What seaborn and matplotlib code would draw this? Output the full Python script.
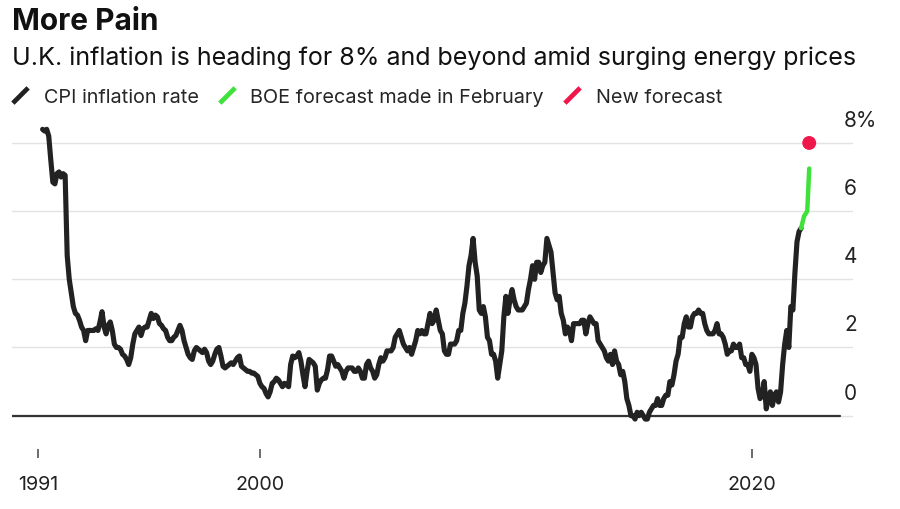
import numpy as np
import pandas as pd
import seaborn as sns
import matplotlib.pyplot as plt
import matplotlib.transforms as mtransforms
from matplotlib.lines import Line2D

# UK CPI inflation rate, monthly, from March 1991 to January 2022 (%)
cpi_start = "1991-03-01"
cpi_rate = [
    8.4, 8.35, 8.4, 8.2, 7.5, 6.85, 6.8, 7.1, 7.15, 7.0,                  # 1991 (Mar-Dec)
    7.1, 7.05, 4.7, 4.0, 3.6, 3.2, 3.0, 2.95, 2.8, 2.6, 2.5, 2.2,         # 1992
    2.5, 2.5, 2.5, 2.5, 2.55, 2.5, 2.75, 3.05, 2.6, 2.4, 2.65, 2.75,      # 1993
    2.5, 2.1, 2.0, 2.0, 1.95, 1.8, 1.75, 1.65, 1.5, 1.7, 2.1, 2.4,        # 1994
    2.5, 2.6, 2.35, 2.55, 2.6, 2.6, 2.8, 3.0, 2.85, 2.95, 2.9, 2.7,       # 1995
    2.65, 2.55, 2.5, 2.3, 2.2, 2.2, 2.3, 2.35, 2.5, 2.65, 2.5, 2.2,       # 1996
    2.0, 1.8, 1.7, 1.65, 1.9, 2.0, 1.95, 1.9, 1.85, 1.95, 1.85, 1.6,      # 1997
    1.5, 1.6, 1.8, 1.95, 2.0, 1.75, 1.45, 1.4, 1.45, 1.5, 1.55, 1.5,      # 1998
    1.6, 1.7, 1.75, 1.45, 1.4, 1.35, 1.3, 1.3, 1.25, 1.25, 1.2, 1.15,     # 1999
    0.95, 0.85, 0.8, 0.65, 0.55, 0.7, 0.95, 1.0, 1.1, 1.05, 0.95, 0.85,   # 2000
    0.95, 0.9, 0.85, 1.5, 1.75, 1.7, 1.75, 1.85, 1.6, 1.2, 0.85, 1.3,     # 2001
    1.65, 1.6, 1.55, 1.45, 0.75, 0.95, 1.05, 1.1, 1.1, 1.35, 1.75, 1.75,  # 2002
    1.6, 1.45, 1.5, 1.4, 1.3, 1.1, 1.3, 1.4, 1.4, 1.4, 1.3, 1.3,          # 2003
    1.4, 1.3, 1.1, 1.1, 1.5, 1.6, 1.4, 1.3, 1.1, 1.2, 1.5, 1.7,           # 2004
    1.6, 1.7, 1.9, 1.9, 1.9, 2.0, 2.3, 2.4, 2.5, 2.3, 2.1, 2.0,           # 2005
    1.9, 2.0, 1.8, 2.0, 2.2, 2.5, 2.4, 2.5, 2.4, 2.4, 2.7, 3.0,           # 2006
    2.7, 2.8, 3.1, 2.8, 2.5, 2.4, 1.9, 1.8, 1.8, 2.1, 2.1, 2.1,           # 2007
    2.2, 2.5, 2.5, 3.0, 3.3, 3.8, 4.4, 4.7, 5.2, 4.5, 4.1, 3.1,           # 2008
    3.0, 3.2, 2.9, 2.3, 2.2, 1.8, 1.8, 1.6, 1.1, 1.5, 1.9, 2.9,           # 2009
    3.5, 3.0, 3.4, 3.7, 3.4, 3.2, 3.1, 3.1, 3.1, 3.2, 3.3, 3.7,           # 2010
    4.0, 4.4, 4.0, 4.5, 4.5, 4.2, 4.4, 4.5, 5.2, 5.0, 4.8, 4.2,           # 2011
    3.6, 3.4, 3.5, 3.0, 2.8, 2.4, 2.6, 2.5, 2.2, 2.7, 2.7, 2.7,           # 2012
    2.7, 2.8, 2.8, 2.4, 2.7, 2.9, 2.8, 2.7, 2.7, 2.2, 2.1, 2.0,           # 2013
    1.9, 1.7, 1.6, 1.8, 1.5, 1.9, 1.6, 1.5, 1.2, 1.3, 1.0, 0.5,           # 2014
    0.3, 0.0, 0.0, -0.1, 0.1, 0.0, 0.1, 0.0, -0.1, -0.1, 0.1, 0.2,        # 2015
    0.3, 0.3, 0.5, 0.3, 0.3, 0.5, 0.6, 0.6, 1.0, 0.9, 1.2, 1.6,           # 2016
    1.8, 2.3, 2.3, 2.7, 2.9, 2.6, 2.6, 2.9, 3.0, 3.0, 3.1, 3.0,           # 2017
    3.0, 2.7, 2.5, 2.4, 2.4, 2.4, 2.5, 2.7, 2.4, 2.4, 2.3, 2.1,           # 2018
    1.8, 1.9, 1.9, 2.1, 2.0, 2.0, 2.1, 1.7, 1.7, 1.5, 1.5, 1.3,           # 2019
    1.8, 1.7, 1.5, 0.8, 0.5, 0.6, 1.0, 0.2, 0.5, 0.7, 0.3, 0.6,           # 2020
    0.7, 0.4, 0.7, 1.5, 2.1, 2.5, 2.0, 3.2, 3.1, 4.2, 5.1, 5.4,           # 2021
    5.5,                                                                  # 2022 (Jan)
]

# BOE forecast made in February (decimal years)
boe_years = [2022.0, 2022.12, 2022.25, 2022.33]
boe_rate = [5.5, 5.85, 6.0, 7.25]

# New forecast
new_years = [2022.33]
new_rate = [8.0]

tick_years = [1991, 2000, 2020]
tick_labels = ["1991", "2000", "2020"]
y_ticks = [0, 2, 4, 6, 8]
y_labels = ["0", "2", "4", "6", "8%"]

legend_labels = ["CPI inflation rate", "BOE forecast made in February", "New forecast"]
c_cpi, c_boe, c_new = "#222222", "#3fe23a", "#f0174b"

fechas = pd.date_range(cpi_start, periods=len(cpi_rate), freq="MS")
df = pd.DataFrame({"anio": fechas.year + (fechas.month - 1) / 12, "cpi": cpi_rate})

sns.set_theme(style="white")
plt.rcParams["font.family"] = ["Inter", "DejaVu Sans"]

fig = plt.figure(figsize=(9, 5.1), dpi=100)
ax = fig.add_axes([12 / 900, 1 - 430.3 / 510, 841 / 900, 310.2 / 510])

ax.axhline(0, xmax=0.985, color="#333333", lw=1.6, zorder=2)
sns.lineplot(data=df, x="anio", y="cpi", ax=ax, color=c_cpi, linewidth=3.7,
             solid_joinstyle="round", solid_capstyle="round", zorder=3)
sns.lineplot(x=boe_years, y=boe_rate, ax=ax, color=c_boe, linewidth=3.2,
             solid_capstyle="round", zorder=4)
sns.scatterplot(x=new_years, y=new_rate, ax=ax, color=c_new, s=100,
                edgecolor="none", zorder=5)

ax.set_xlim(1989.923, 2024.11)
ax.set_ylim(-0.4, 8.7)
ax.set_xlabel("")
ax.set_ylabel("")

# Grid horizontal suave
ax.set_yticks(y_ticks)
ax.set_yticklabels(y_labels)
ax.grid(axis="y", color="#e2e2e2", lw=1.0)
ax.grid(axis="x", visible=False)
ax.set_axisbelow(True)

for s in ["top", "left", "right"]:
    ax.spines[s].set_visible(False)
ax.spines["bottom"].set_position(("outward", 14.2))
ax.spines["bottom"].set_color("none")

ax.set_xticks(tick_years)
ax.set_xticklabels(tick_labels)
ax.tick_params(axis="x", bottom=True, length=6.5, width=1.1, color="#444444",
               pad=12, labelsize=14.2, labelcolor="#222222")

ax.yaxis.tick_right()
ax.tick_params(axis="y", right=True, length=0, pad=-6.5, labelsize=15,
               labelcolor="#222222")
offset = mtransforms.ScaledTranslation(0, 13 / 100, fig.dpi_scale_trans)
for lab in ax.get_yticklabels():
    lab.set_verticalalignment("bottom")
    lab.set_transform(lab.get_transform() + offset)

fig.text(12 / 900, 1 - 30 / 510, "More Pain", fontsize=21.5, fontweight="bold",
         va="baseline", color="#111111")
fig.text(12 / 900, 1 - 65 / 510,
         "U.K. inflation is heading for 8% and beyond amid surging energy prices",
         fontsize=18.05, va="baseline", color="#111111")

handles = [Line2D([], [], color=c, marker=[(-1, -1), (1, 1)], markersize=11,
                  markeredgewidth=3.4, linestyle="none")
           for c in [c_cpi, c_boe, c_new]]
fig.legend(handles, legend_labels, loc="center left",
           bbox_to_anchor=(12 / 900, 1 - 98 / 510), ncol=3, frameon=False,
           fontsize=14.3, handlelength=0.8, handletextpad=0.8,
           columnspacing=1.0, borderpad=0, borderaxespad=0)

fig.savefig("out.png", dpi=100, facecolor="white")
